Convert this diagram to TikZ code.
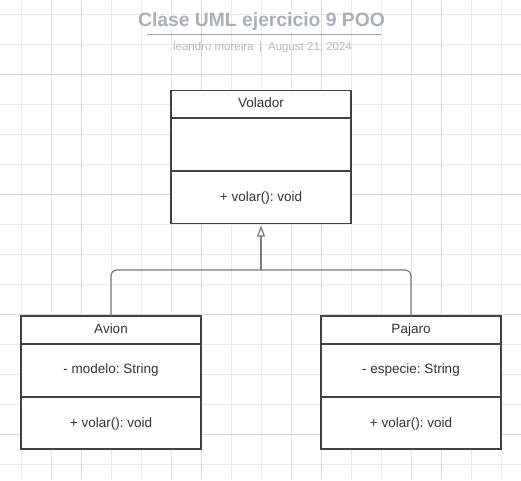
\documentclass[tikz,border=0pt]{standalone}
\usepackage{fontspec}
\setmainfont{Liberation Sans}
\usetikzlibrary{arrows.meta}
\frenchspacing
\definecolor{gridminor}{HTML}{EBEBEB}
\definecolor{gridmajor}{HTML}{DCDCDC}
\definecolor{boxline}{HTML}{424242}
\definecolor{txt}{HTML}{333333}
\definecolor{conncol}{HTML}{7A7A7A}
\definecolor{titlecol}{HTML}{ABB0B8}
\definecolor{subcol}{HTML}{B5B9C0}
\definecolor{rulecol}{HTML}{9EA3AA}
\tikzset{
  classbox/.style={draw=boxline, line width=1.6pt, fill=white, minimum width=180pt, minimum height=133pt, inner sep=0pt, outer sep=0pt, anchor=north west},
  divline/.style={draw=boxline, line width=1.4pt},
  ctext/.style={text=txt, font=\fontsize{13.5pt}{15pt}\selectfont, inner sep=0pt, anchor=base},
  conn/.style={draw=conncol, line width=1.2pt, rounded corners=6pt},
  gen/.style={draw=conncol, line width=1.2pt, -{Triangle[open, length=11pt, width=8pt]}},
}
\begin{document}
\begin{tikzpicture}[x=1pt, y=-1pt]
\useasboundingbox (0,0) rectangle (521,480);
\fill[white] (0,0) rectangle (521,480);
% grid
\foreach \i in {0,...,16} {
  \draw[gridminor, line width=0.8pt] ({21.5+30*\i},0) -- ({21.5+30*\i},480);
}
\foreach \i in {0,...,15} {
  \draw[gridminor, line width=0.8pt] (0,{14+30*\i}) -- (521,{14+30*\i});
}
\foreach \i in {0,...,4} {
  \draw[gridmajor, line width=0.8pt] ({81.5+120*\i},0) -- ({81.5+120*\i},480);
}
\foreach \i in {0,...,3} {
  \draw[gridmajor, line width=0.8pt] (0,{74+120*\i}) -- (521,{74+120*\i});
}
% title
\node[text=titlecol, font=\fontsize{19.3pt}{21pt}\selectfont\bfseries, inner sep=0pt, anchor=base] (title) at (261.5,26.5) {Clase UML ejercicio 9 POO};
\draw[rulecol, line width=1.2pt] (147,34.5) -- (381,34.5);
\node[text=subcol, font=\fontsize{11.5pt}{13pt}\selectfont, inner sep=0pt, anchor=base] (sub) at (262.5,50.5) {leandro moreira\enspace|\enspace August 21, 2024};
% classes
\node[classbox] (volador) at (171,90.5) {};
\node[classbox] (avion) at (21,316) {};
\node[classbox] (pajaro) at (321,316) {};
% dividers
\draw[divline] (171,118) -- (351,118);
\draw[divline] (171,171) -- (351,171);
\draw[divline] (21,344) -- (201,344);
\draw[divline] (21,397) -- (201,397);
\draw[divline] (321,344) -- (501,344);
\draw[divline] (321,397) -- (501,397);
% texts
\node[ctext] (vname) at (261,107.5) {Volador};
\node[ctext] (vop) at (261,201) {+ volar(): void};
\node[ctext] (aname) at (111,333) {Avion};
\node[ctext] (aattr) at (111,373.5) {- modelo: String};
\node[ctext] (aop) at (111,427) {+ volar(): void};
\node[ctext] (pname) at (411,333) {Pajaro};
\node[ctext] (pattr) at (411,373.5) {- especie: String};
\node[ctext] (pop) at (411,427) {+ volar(): void};
% connectors
\coordinate (j) at (261,270);
\coordinate (tip) at (261,225.5);
\draw[conn] (avion.north) -- ++(0,-46) -- (j);
\draw[conn] (pajaro.north) -- ++(0,-46) -- (j);
\draw[gen] (j) -- (tip);
\end{tikzpicture}
\end{document}
